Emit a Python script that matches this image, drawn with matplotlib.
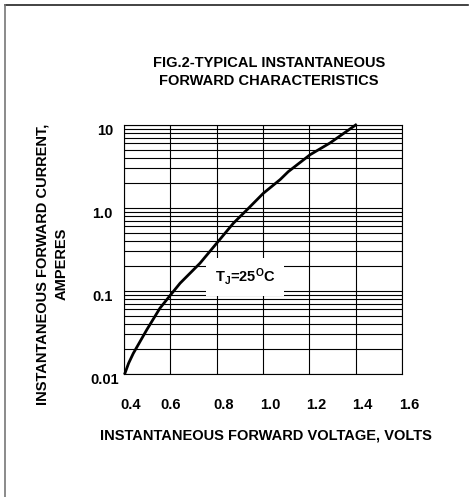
import numpy as np
import matplotlib
matplotlib.use("Agg")
import matplotlib.pyplot as plt
import matplotlib.transforms as mtransforms
from matplotlib.lines import Line2D

plt.rcParams['font.family'] = ['Liberation Sans', 'DejaVu Sans']
plt.rcParams['font.weight'] = 'bold'

# Forward voltage (V) vs forward current (A)
volts = [0.404, 0.420, 0.440, 0.498, 0.555, 0.600, 0.642, 0.728, 0.800,
         0.872, 0.937, 1.001, 1.074, 1.109, 1.203, 1.289, 1.400]
amps = [0.0102, 0.0135, 0.0177, 0.034, 0.062, 0.089, 0.124, 0.216, 0.376,
        0.655, 0.99, 1.50, 2.2, 2.74, 4.38, 6.07, 10.0]

x_ticks = [0.4, 0.6, 0.8, 1.0, 1.2, 1.4, 1.6]
x_labels = ["0.4", "0.6", "0.8", "1.0", "1.2", "1.4", "1.6"]
y_ticks = [0.01, 0.1, 1.0, 10]
y_labels = ["0.01", "0.1", "1.0", "10"]

FS = 10.5

fig = plt.figure(figsize=(4.69, 4.97), dpi=100)
ax = fig.add_axes([124 / 469, 1 - 374 / 497, 278 / 469, 249 / 497])

ax.set_yscale('log')
ax.set_xlim(0.4, 1.6)
ax.set_ylim(0.01, 10)

# grid: major verticals, major + minor horizontals
ax.set_xticks(x_ticks)
ax.set_xticklabels(x_labels)
ax.set_yticks(y_ticks)
ax.set_yticklabels(y_labels)
ax.yaxis.set_minor_locator(matplotlib.ticker.LogLocator(base=10, subs=np.arange(2, 10)))
ax.yaxis.set_minor_formatter(matplotlib.ticker.NullFormatter())
ax.grid(True, which='major', axis='x', color='black', lw=0.8)
ax.grid(True, which='both', axis='y', color='black', lw=0.8)
ax.tick_params(which='both', length=0)
ax.tick_params(axis='x', pad=17, labelsize=FS)
ax.tick_params(axis='y', pad=8, labelsize=FS)
for sp in ax.spines.values():
    sp.set_color('black')
    sp.set_linewidth(0.8)

# nudge tick labels like the original
for lab in ax.get_xticklabels():
    dx = 0 if lab.get_text() == "0.6" else 7
    lab.set_transform(lab.get_transform() +
                      mtransforms.ScaledTranslation(dx / 100, 0, fig.dpi_scale_trans))
for lab in ax.get_yticklabels():
    dx = 6 if lab.get_text() == "0.01" else 0
    lab.set_transform(lab.get_transform() +
                      mtransforms.ScaledTranslation(dx / 100, -4 / 100, fig.dpi_scale_trans))

ax.plot(volts, amps, color='black', lw=2.0, solid_joinstyle='round', clip_on=False)

ax.text(0.923, 0.148, r"T$\mathregular{_J}$=25$\mathregular{^O}$C", fontsize=FS,
        ha='center', va='center', fontweight='bold',
        bbox=dict(boxstyle='square,pad=0.6', fc='white', ec='none'))

fig.text(269 / 469, 1 - 72 / 497,
         "FIG.2-TYPICAL INSTANTANEOUS\nFORWARD CHARACTERISTICS",
         ha='center', va='center', fontsize=FS, fontweight='bold', linespacing=1.3)
fig.text(52 / 469, 1 - 264 / 497, "INSTANTANEOUS FORWARD CURRENT,\nAMPERES",
         ha='center', va='center', rotation=90, fontsize=FS, fontweight='bold',
         linespacing=1.45)
fig.text(266 / 469, 1 - 435 / 497, "INSTANTANEOUS FORWARD VOLTAGE, VOLTS",
         ha='center', va='center', fontsize=FS, fontweight='bold')

# page frame (top and left edges only)
fig.add_artist(Line2D([4.5 / 469, 468 / 469], [1 - 5 / 497, 1 - 5 / 497],
                      transform=fig.transFigure, color='#222222', lw=1.2))
fig.add_artist(Line2D([4.5 / 469, 4.5 / 469], [0, 1 - 5 / 497],
                      transform=fig.transFigure, color='#777777', lw=1.2))

fig.savefig("out.png", dpi=100, facecolor='white')
